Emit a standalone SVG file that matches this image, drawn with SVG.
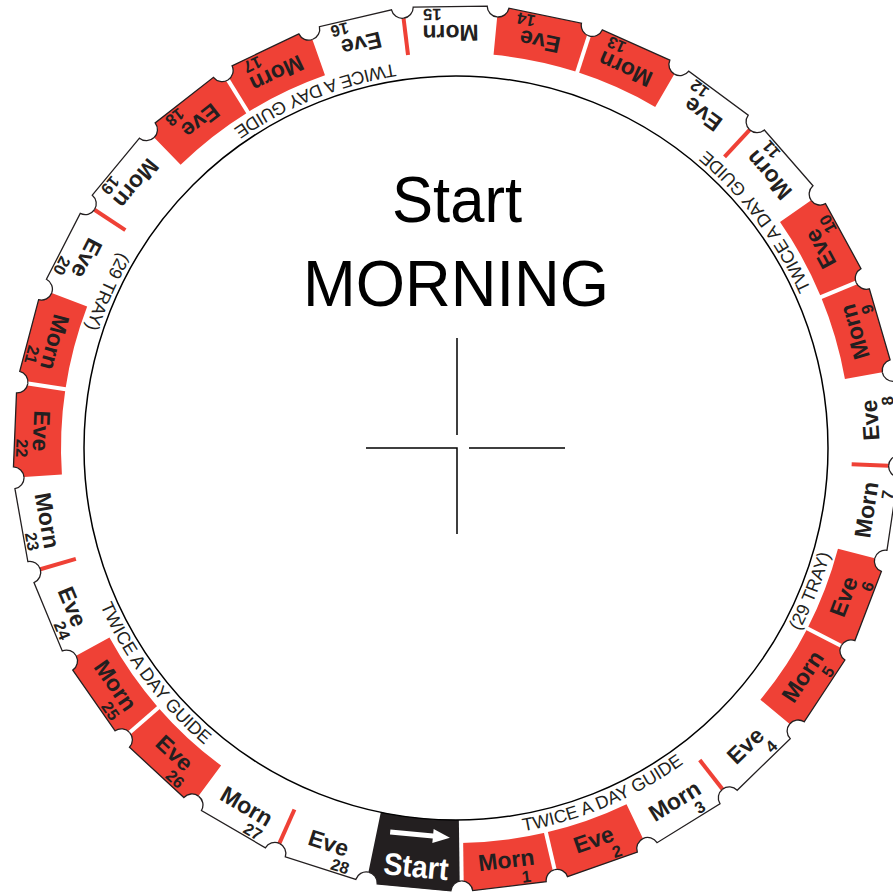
<svg xmlns="http://www.w3.org/2000/svg" width="893" height="893" viewBox="0 0 893 893">
<style>
.w{font-family:"Liberation Sans",Arial,sans-serif;font-weight:bold;font-size:23px;fill:#231f20;text-anchor:middle}
.n{font-family:"Liberation Sans",Arial,sans-serif;font-weight:bold;font-size:16.5px;fill:#231f20;text-anchor:middle}
.c{font-family:"Liberation Sans",Arial,sans-serif;font-size:18px;fill:#231f20;text-anchor:middle}
.big{font-family:"Liberation Sans",Arial,sans-serif;font-size:64px;fill:#000;text-anchor:middle}
.red{fill:#ef4136}
.ol{fill:none;stroke:#231f20;stroke-width:1.3}
.gap{stroke:#fff;stroke-width:4}
.rs{stroke:#ef4136;stroke-width:4}
</style>
<defs>
<path id="red" d="M-42.707,392.685 L-46.816,430.462 A11,11 0 0,1 -37.005,441.397 L37.005,441.397 A11,11 0 0,1 46.816,430.462 L42.707,392.685 A395,395 0 0,1 -42.707,392.685 Z"/>
<path id="olp" d="M-46.816,430.462 A11,11 0 0,1 -37.005,441.397 L37.005,441.397 A11,11 0 0,1 46.816,430.462"/>
<line id="gapl" x1="40.004" y1="367.831" x2="47.140" y2="433.444"/>
<line id="rsl" x1="42.815" y1="393.679" x2="46.816" y2="430.462"/>
<path id="tp" d="M456,837 A389,389 0 0,0 456,59 A389,389 0 0,0 456,837"/>
</defs>
<g id="dial" transform="translate(456,448) rotate(-0.75)">
<g id="start" transform="rotate(6.2069)">
<path fill="#231f20" d="M-40.220,369.819 L-46.816,430.462 A11,11 0 0,1 -37.005,441.397 L37.005,441.397 A11,11 0 0,1 46.816,430.462 L40.220,369.819 A372,372 0 0,1 -40.220,369.819 Z"/>
<path fill="#fff" d="M-29,386 H14 V381.5 L31,388.5 L14,395.5 V391 H-29 Z"/>
<text x="0" y="431" textLength="65" lengthAdjust="spacingAndGlyphs" style="font-family:'Liberation Sans',Arial,sans-serif;font-weight:bold;font-size:31px;fill:#fff;text-anchor:middle">Start</text>
</g>
<g id="m1" transform="rotate(-6.2069)"><use href="#red" class="red"/><text class="w" y="423">Morn</text><text class="n" x="18" y="439.5">1</text></g>
<g id="e2" transform="rotate(-18.6207)"><use href="#red" class="red"/><text class="w" y="423">Eve</text><text class="n" x="18" y="439.5">2</text></g>
<g id="m3" transform="rotate(-31.0345)"><text class="w" y="423">Morn</text><text class="n" x="18" y="439.5">3</text></g>
<g id="e4" transform="rotate(-43.4483)"><text class="w" y="423">Eve</text><text class="n" x="18" y="439.5">4</text></g>
<g id="m5" transform="rotate(-55.8621)"><use href="#red" class="red"/><text class="w" y="423">Morn</text><text class="n" x="18" y="439.5">5</text></g>
<g id="e6" transform="rotate(-68.2759)"><use href="#red" class="red"/><text class="w" y="423">Eve</text><text class="n" x="18" y="439.5">6</text></g>
<g id="m7" transform="rotate(-80.6897)"><text class="w" y="423">Morn</text><text class="n" x="18" y="439.5">7</text></g>
<g id="e8" transform="rotate(-93.1034)"><text class="w" y="423">Eve</text><text class="n" x="18" y="439.5">8</text></g>
<g id="m9" transform="rotate(-105.5172)"><use href="#red" class="red"/><text class="w" y="423">Morn</text><text class="n" x="18" y="439.5">9</text></g>
<g id="e10" transform="rotate(-117.931)"><use href="#red" class="red"/><text class="w" y="423">Eve</text><text class="n" x="18" y="439.5">10</text></g>
<g id="m11" transform="rotate(-130.3448)"><text class="w" y="423">Morn</text><text class="n" x="18" y="439.5">11</text></g>
<g id="e12" transform="rotate(-142.7586)"><text class="w" y="423">Eve</text><text class="n" x="18" y="439.5">12</text></g>
<g id="m13" transform="rotate(-155.1724)"><use href="#red" class="red"/><text class="w" y="423">Morn</text><text class="n" x="18" y="439.5">13</text></g>
<g id="e14" transform="rotate(-167.5862)"><use href="#red" class="red"/><text class="w" y="423">Eve</text><text class="n" x="18" y="439.5">14</text></g>
<g id="m15" transform="rotate(-180)"><text class="w" y="423">Morn</text><text class="n" x="18" y="439.5">15</text></g>
<g id="e16" transform="rotate(-192.4138)"><text class="w" y="423">Eve</text><text class="n" x="18" y="439.5">16</text></g>
<g id="m17" transform="rotate(-204.8276)"><use href="#red" class="red"/><text class="w" y="423">Morn</text><text class="n" x="18" y="439.5">17</text></g>
<g id="e18" transform="rotate(-217.2414)"><use href="#red" class="red"/><text class="w" y="423">Eve</text><text class="n" x="18" y="439.5">18</text></g>
<g id="m19" transform="rotate(-229.6552)"><text class="w" y="423">Morn</text><text class="n" x="18" y="439.5">19</text></g>
<g id="e20" transform="rotate(-242.069)"><text class="w" y="423">Eve</text><text class="n" x="18" y="439.5">20</text></g>
<g id="m21" transform="rotate(-254.4828)"><use href="#red" class="red"/><text class="w" y="423">Morn</text><text class="n" x="18" y="439.5">21</text></g>
<g id="e22" transform="rotate(-266.8966)"><use href="#red" class="red"/><text class="w" y="423">Eve</text><text class="n" x="18" y="439.5">22</text></g>
<g id="m23" transform="rotate(-279.3103)"><text class="w" y="423">Morn</text><text class="n" x="18" y="439.5">23</text></g>
<g id="e24" transform="rotate(-291.7241)"><text class="w" y="423">Eve</text><text class="n" x="18" y="439.5">24</text></g>
<g id="m25" transform="rotate(-304.1379)"><use href="#red" class="red"/><text class="w" y="423">Morn</text><text class="n" x="18" y="439.5">25</text></g>
<g id="e26" transform="rotate(-316.5517)"><use href="#red" class="red"/><text class="w" y="423">Eve</text><text class="n" x="18" y="439.5">26</text></g>
<g id="m27" transform="rotate(-328.9655)"><text class="w" y="423">Morn</text><text class="n" x="18" y="439.5">27</text></g>
<g id="e28" transform="rotate(-341.3793)"><text class="w" y="423">Eve</text><text class="n" x="18" y="439.5">28</text></g>
<g id="separators">
<use href="#gapl" class="gap" transform="rotate(6.2069)"/>
<use href="#gapl" class="gap" transform="rotate(-6.2069)"/>
<use href="#gapl" class="gap" transform="rotate(-55.8621)"/>
<use href="#gapl" class="gap" transform="rotate(-105.5172)"/>
<use href="#gapl" class="gap" transform="rotate(-155.1724)"/>
<use href="#gapl" class="gap" transform="rotate(-204.8276)"/>
<use href="#gapl" class="gap" transform="rotate(-254.4828)"/>
<use href="#gapl" class="gap" transform="rotate(-304.1379)"/>
<use href="#rsl" class="rs" transform="rotate(-31.0345)"/>
<use href="#rsl" class="rs" transform="rotate(-80.6897)"/>
<use href="#rsl" class="rs" transform="rotate(-130.3448)"/>
<use href="#rsl" class="rs" transform="rotate(-180)"/>
<use href="#rsl" class="rs" transform="rotate(-229.6552)"/>
<use href="#rsl" class="rs" transform="rotate(-279.3103)"/>
<use href="#rsl" class="rs" transform="rotate(-328.9655)"/>
</g>
<g id="outline" class="ol">
<use href="#olp" transform="rotate(6.2069)"/>
<use href="#olp" transform="rotate(-6.2069)"/>
<use href="#olp" transform="rotate(-18.6207)"/>
<use href="#olp" transform="rotate(-31.0345)"/>
<use href="#olp" transform="rotate(-43.4483)"/>
<use href="#olp" transform="rotate(-55.8621)"/>
<use href="#olp" transform="rotate(-68.2759)"/>
<use href="#olp" transform="rotate(-80.6897)"/>
<use href="#olp" transform="rotate(-93.1034)"/>
<use href="#olp" transform="rotate(-105.5172)"/>
<use href="#olp" transform="rotate(-117.931)"/>
<use href="#olp" transform="rotate(-130.3448)"/>
<use href="#olp" transform="rotate(-142.7586)"/>
<use href="#olp" transform="rotate(-155.1724)"/>
<use href="#olp" transform="rotate(-167.5862)"/>
<use href="#olp" transform="rotate(-180)"/>
<use href="#olp" transform="rotate(-192.4138)"/>
<use href="#olp" transform="rotate(-204.8276)"/>
<use href="#olp" transform="rotate(-217.2414)"/>
<use href="#olp" transform="rotate(-229.6552)"/>
<use href="#olp" transform="rotate(-242.069)"/>
<use href="#olp" transform="rotate(-254.4828)"/>
<use href="#olp" transform="rotate(-266.8966)"/>
<use href="#olp" transform="rotate(-279.3103)"/>
<use href="#olp" transform="rotate(-291.7241)"/>
<use href="#olp" transform="rotate(-304.1379)"/>
<use href="#olp" transform="rotate(-316.5517)"/>
<use href="#olp" transform="rotate(-328.9655)"/>
<use href="#olp" transform="rotate(-341.3793)"/>
</g>
</g>
<circle id="inner" cx="456" cy="448" r="372" fill="none" stroke="#000" stroke-width="1.5"/>
<g id="ringtext">
<text class="c"><textPath href="#tp" startOffset="155.5">TWICE A DAY GUIDE</textPath></text>
<text class="c"><textPath href="#tp" startOffset="461.7">(29 TRAY)</textPath></text>
<text class="c"><textPath href="#tp" startOffset="862.2">TWICE A DAY GUIDE</textPath></text>
<text class="c"><textPath href="#tp" startOffset="1370.8">TWICE A DAY GUIDE</textPath></text>
<text class="c"><textPath href="#tp" startOffset="1668.8">(29 TRAY)</textPath></text>
<text class="c"><textPath href="#tp" startOffset="2082.3">TWICE A DAY GUIDE</textPath></text>
</g>
<g id="title">
<text class="big" x="457" y="222" textLength="130" lengthAdjust="spacingAndGlyphs">Start</text>
<text class="big" x="456" y="306" textLength="306" lengthAdjust="spacingAndGlyphs">MORNING</text>
</g>
<path id="crosshair" d="M457,338V435M366,448H457V534M469,448H565" fill="none" stroke="#000" stroke-width="1.5"/>
</svg>
